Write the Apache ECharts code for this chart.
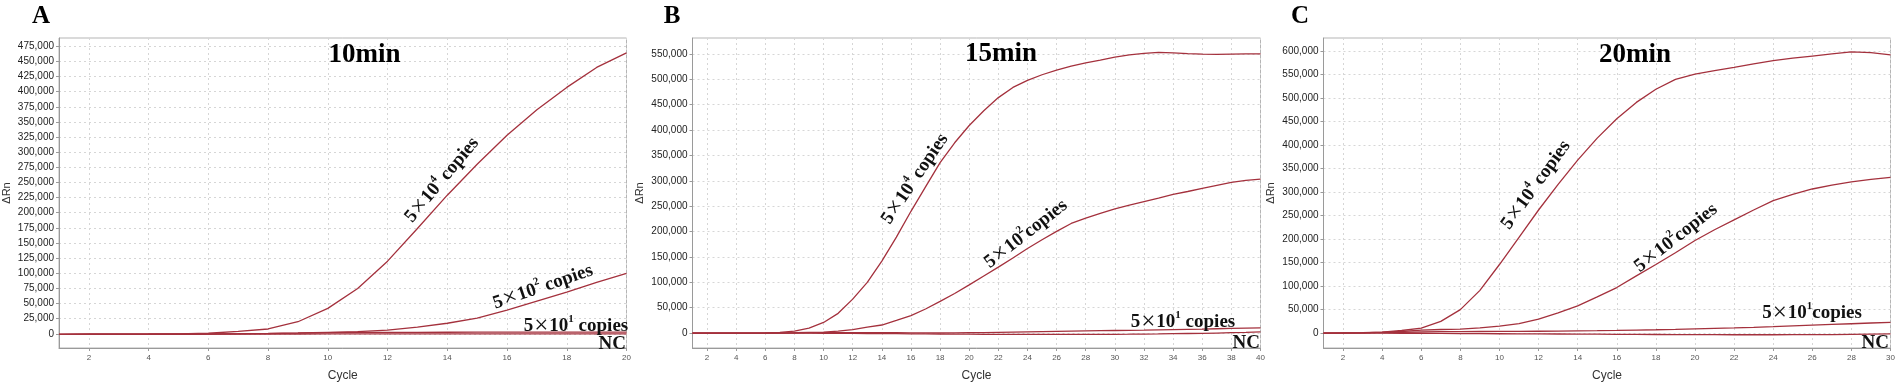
<!DOCTYPE html>
<html><head><meta charset="utf-8">
<script src="https://cdn.jsdelivr.net/npm/echarts@6/dist/echarts.min.js"></script>
<style>html,body{margin:0;padding:0;background:#fff}#c{width:1902px;height:387px}</style>
</head><body><div id="c"></div>
<script>
// ---------- data ----------
const cyclesA = [1,2,3,4,5,6,7,8,9,10,11,12,13,14,15,16,17,18,19,20];
const A_5e4 = [-800,-700,-500,-300,0,1000,4000,8000,20000,42000,75000,120000,174000,229000,280000,328000,370000,407000,440000,464000];
const A_5e2 = [-800,-700,-600,-500,-400,-200,200,800,1500,2500,3500,6000,11000,17500,26000,39000,54000,69000,85000,100000];
const A_5e1 = [-800,-700,-600,-500,-400,-300,0,500,1200,2000,2300,2400,2500,2600,2700,2700,2800,2800,2800,2900];
const A_NC  = [-1000,-900,-800,-800,-700,-600,-500,-400,-300,-200,-100,0,0,0,0,0,0,0,0,0];

const cyclesB = [1,2,3,4,5,6,7,8,9,10,11,12,13,14,15,16,17,18,19,20,21,22,23,24,25,26,27,28,29,30,31,32,33,34,35,36,37,38,39,40];
const B_5e4 = [0,0,0,0,200,500,1500,4000,10000,21000,39000,67000,100000,142000,189000,240000,288000,336000,375000,409000,438000,464000,484000,498000,509000,518000,526000,532500,538000,543600,548000,551000,553000,552000,550500,549500,549000,549500,550000,550000];
const B_5e2 = [0,0,0,0,0,100,300,700,1300,2000,4000,7000,12000,16000,25000,34500,47500,62500,78000,95000,112600,130000,148000,166600,184000,200500,216000,226500,236000,244800,252000,259000,266000,273400,279000,285000,291000,297000,301000,303400];
const B_5e1 = [0,0,0,0,0,0,200,400,600,800,1000,1000,900,800,700,600,500,500,600,800,1000,1400,1800,2300,2800,3300,3800,4300,4800,5200,5600,6000,6500,7000,7500,8000,8600,9200,9800,10400];
const B_NC  = [0,0,0,0,0,0,0,0,-100,-200,-300,-500,-700,-900,-1100,-1300,-1500,-1700,-1900,-2100,-2300,-2400,-2500,-2600,-2600,-2600,-2600,-2500,-2400,-2300,-2100,-1800,-1500,-1100,-700,-300,200,800,1500,2500];

const cyclesC = [1,2,3,4,5,6,7,8,9,10,11,12,13,14,15,16,17,18,19,20,21,22,23,24,25,26,27,28,29,30];
const C_5e4 = [0,200,600,2000,5600,10500,25000,50000,91000,146000,204000,262000,316500,368000,415000,456000,491000,519000,540000,551000,558500,565500,573000,580000,585000,589500,594000,598600,597000,592000];
const C_5e2 = [0,500,1000,2000,3500,6300,7700,8500,11000,14800,20400,30000,43000,58000,77000,97000,121700,146000,171000,197000,220000,241000,262000,282000,295000,306700,315000,322000,327000,331300];
const C_5e1 = [0,300,700,1200,1800,2400,3000,3400,3500,3600,3800,4000,4300,4700,5200,5800,6500,7200,8000,9000,10000,11000,12200,13800,15500,17000,18500,20000,21500,23000];
const C_NC  = [0,0,0,-100,-300,-500,-700,-900,-1100,-1300,-1500,-1700,-1900,-2100,-2300,-2500,-2700,-2900,-3100,-3300,-3400,-3500,-3500,-3500,-3400,-3200,-3000,-2600,-2200,-1800];

const ticksXA = [2,4,6,8,10,12,14,16,18,20];
const ticksXB = [2,4,6,8,10,12,14,16,18,20,22,24,26,28,30,32,34,36,38,40];
const ticksXC = [2,4,6,8,10,12,14,16,18,20,22,24,26,28,30];
const ticksYA = [0,25000,50000,75000,100000,125000,150000,175000,200000,225000,250000,275000,300000,325000,350000,375000,400000,425000,450000,475000];
const ticksYB = [0,50000,100000,150000,200000,250000,300000,350000,400000,450000,500000,550000];
const ticksYC = [0,50000,100000,150000,200000,250000,300000,350000,400000,450000,500000,550000,600000];

const panelLetters = ['A','B','C'];
const panelTitles = ['10min','15min','20min'];

// ---------- chart ----------
const LINE = '#a4313d';
const GRID_LINE = '#d6d6d6';
const serif = '"Times New Roman","Liberation Serif",serif';
const sans = 'Arial,"Liberation Sans",sans-serif';

const grids = [
  {left:58.5, top:38, width:568, height:313},
  {left:692.5, top:38, width:568, height:313},
  {left:1323.5, top:38, width:567, height:313}
].map(g => Object.assign(g, {show:true, borderColor:'#b5b5b5', borderWidth:1, backgroundColor:'#fff'}));

function xAxis(i, max, ticks){
  return {
    type:'value', gridIndex:i, min:1, max:max,
    name:'Cycle', nameLocation:'middle', nameGap:22,
    nameTextStyle:{fontFamily:sans, fontSize:12, color:'#333'},
    axisLine:{show:true, onZero:false, lineStyle:{color:'#9a9a9a'}},
    axisTick:{show:true, length:3, customValues:ticks, lineStyle:{color:'#9a9a9a'}},
    axisLabel:{customValues:ticks, fontFamily:sans, fontSize:8, color:'#555', margin:6},
    splitLine:{show:true, lineStyle:{color:GRID_LINE, type:[2,3], width:1}}
  };
}
function yAxis(i, min, max, ticks){
  return {
    type:'value', gridIndex:i, min:min, max:max,
    name:'\u0394Rn', nameLocation:'middle', nameGap:47, nameRotate:90,
    nameTextStyle:{fontFamily:sans, fontSize:11, color:'#333'},
    axisLine:{show:true, onZero:false, lineStyle:{color:'#9a9a9a'}},
    axisTick:{show:true, length:3, customValues:ticks, lineStyle:{color:'#9a9a9a'}},
    axisLabel:{customValues:ticks, fontFamily:sans, fontSize:10, color:'#222', margin:5,
      formatter: v => Number(v).toLocaleString('en-US')},
    splitLine:{show:true, lineStyle:{color:GRID_LINE, type:[2,3], width:1}}
  };
}

function mk(i, xs, ys){
  return {type:'line', xAxisIndex:i, yAxisIndex:i, data: xs.map((x,k)=>[x, ys[k]]),
    showSymbol:false, symbol:'none', smooth:false, animation:false,
    lineStyle:{color:LINE, width:1.3}, z:3};
}

const series = [
  mk(0,cyclesA,A_NC), mk(0,cyclesA,A_5e1), mk(0,cyclesA,A_5e2), mk(0,cyclesA,A_5e4),
  mk(1,cyclesB,B_NC), mk(1,cyclesB,B_5e1), mk(1,cyclesB,B_5e2), mk(1,cyclesB,B_5e4),
  mk(2,cyclesC,C_NC), mk(2,cyclesC,C_5e1), mk(2,cyclesC,C_5e2), mk(2,cyclesC,C_5e4)
];

const rich = {
  n:{fontFamily:serif, fontWeight:'bold', fontSize:19, color:'#111'},
  x:{fontFamily:serif, fontWeight:'normal', fontSize:25, color:'#111', padding:[0,1,0,1]},
  s:{fontFamily:serif, fontWeight:'bold', fontSize:11, color:'#111', verticalAlign:'top'}
};
function ann(text, x, y, deg, align){
  return {type:'text', x:x, y:y, rotation: deg*Math.PI/180, z:10,
    style:{text:text, rich:rich, align:align||'center', verticalAlign:'middle', fill:'#111'}};
}
function lab(exp, sp){ return '{n|5}{x|\u00d7}{n|10}{s|'+exp+'}{n|'+(sp?' ':'')+'copies}'; }

const graphics = [
  {type:'text', x:41, y:17, style:{text:panelLetters[0], font:'bold 25px '+serif, fill:'#000', align:'center', verticalAlign:'middle'}},
  {type:'text', x:672, y:17, style:{text:panelLetters[1], font:'bold 25px '+serif, fill:'#000', align:'center', verticalAlign:'middle'}},
  {type:'text', x:1300, y:17, style:{text:panelLetters[2], font:'bold 25px '+serif, fill:'#000', align:'center', verticalAlign:'middle'}},
  {type:'text', x:364.5, y:55, z:10, style:{text:panelTitles[0], font:'bold 27px '+serif, fill:'#000', align:'center', verticalAlign:'middle'}},
  {type:'text', x:1001, y:54, z:10, style:{text:panelTitles[1], font:'bold 27px '+serif, fill:'#000', align:'center', verticalAlign:'middle'}},
  {type:'text', x:1635, y:55, z:10, style:{text:panelTitles[2], font:'bold 27px '+serif, fill:'#000', align:'center', verticalAlign:'middle'}},
  ann(lab('4',true), 442, 180, 50),
  ann(lab('2',true), 543, 287, 19),
  ann(lab('1',true), 576, 326, 0),
  {type:'text', x:626, y:344, z:10, style:{text:'NC', font:'bold 19px '+serif, fill:'#111', align:'right', verticalAlign:'middle'}},
  ann(lab('4',true), 915, 179, 56),
  ann(lab('2',false), 1026, 234, 38),
  ann(lab('1',true), 1183, 322, 0),
  {type:'text', x:1260, y:343, z:10, style:{text:'NC', font:'bold 19px '+serif, fill:'#111', align:'right', verticalAlign:'middle'}},
  ann(lab('4',true), 1536, 185, 54),
  ann(lab('2',false), 1676, 238, 38),
  ann(lab('1',false), 1812, 313, 0),
  {type:'text', x:1889, y:343, z:10, style:{text:'NC', font:'bold 19px '+serif, fill:'#111', align:'right', verticalAlign:'middle'}}
];

const chart = echarts.init(document.getElementById('c'), null, {renderer:'canvas'});
chart.setOption({
  animation:false,
  backgroundColor:'#fff',
  grid: grids,
  xAxis: [xAxis(0,20,ticksXA), xAxis(1,40,ticksXB), xAxis(2,30,ticksXC)],
  yAxis: [yAxis(0,-23400,488600,ticksYA), yAxis(1,-29300,581400,ticksYB), yAxis(2,-31650,628000,ticksYC)],
  series: series,
  graphic: graphics
});
</script>
</body></html>
